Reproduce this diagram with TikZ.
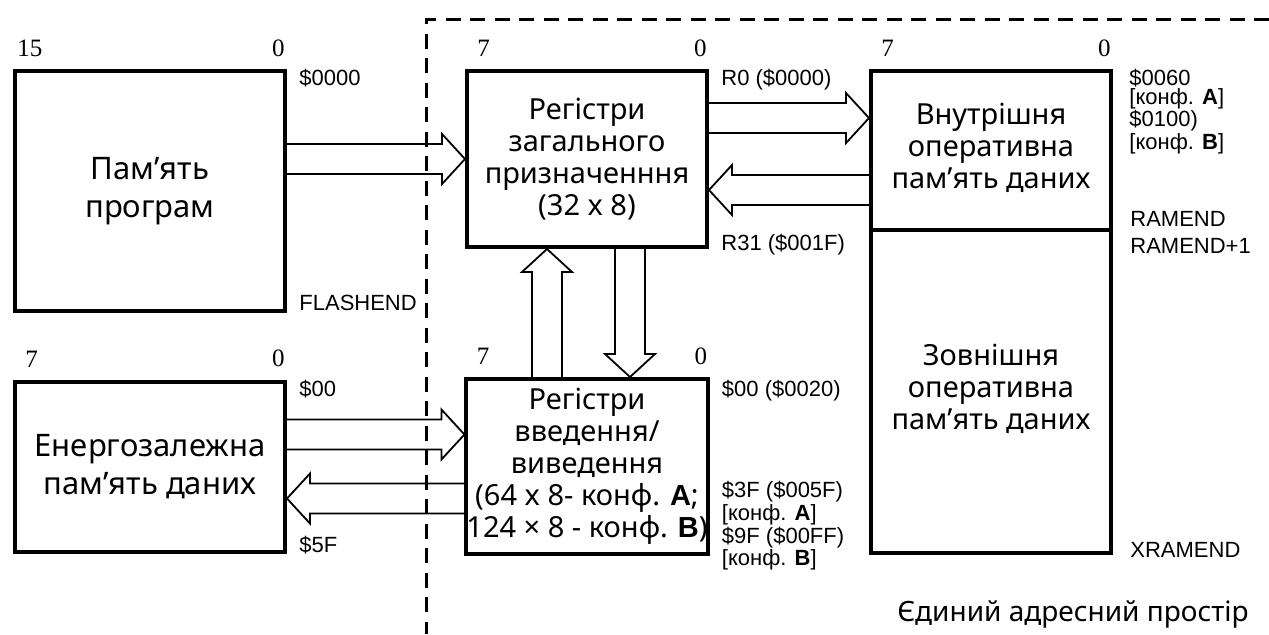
\documentclass[tikz,border=0pt]{standalone}
\usepackage{fontspec}
\setmainfont{Noto Sans}
\newfontfamily\addrfont{Liberation Sans}
\newfontfamily\bitfont{Liberation Serif}
\usetikzlibrary{positioning, calc}

\begin{document}
\begin{tikzpicture}[
  x=0.5pt, y=-0.5pt,                            % one unit = one pixel of the drawing
  mem/.style={rectangle, draw, line width=2pt, align=center, inner sep=0pt,
              font=\fontsize{14.5}{16}\selectfont, minimum width=120pt},
  bigmem/.style={mem, minimum width=135pt, font=\fontsize{15.5}{19}\selectfont},
  bit/.style={font=\bitfont\fontsize{12.5}{13}\selectfont, inner sep=0pt},
  addr/.style={font=\addrfont\fontsize{11}{10}\selectfont, inner sep=0pt, align=left},
  spaceline/.style={dash pattern=on 7.5pt off 4.75pt, line width=1.5pt},
  % hollow bus arrow, drawn from \tikztostart (open tail) to \tikztotarget (tip)
  bus/.style={line width=0.9pt, line join=miter, to path={
      coordinate (bh) at ($(\tikztotarget)!11.5pt!(\tikztostart)$)
      ($(\tikztostart)!7.5pt!90:(\tikztotarget)$)
      -- ($(bh)!7.5pt!-90:(\tikztostart)$)
      -- ($(bh)!12.5pt!-90:(\tikztostart)$)
      -- (\tikztotarget)
      -- ($(bh)!12.5pt!90:(\tikztostart)$)
      -- ($(bh)!7.5pt!90:(\tikztostart)$)
      -- ($(\tikztostart)!7.5pt!-90:(\tikztotarget)$)}}
]
  \useasboundingbox (0,0) rectangle (1269,634);

  % --- unified address space (dashed) ---
  \draw[spaceline] (1269,19) -| (426,634);
  \node[font=\fontsize{14}{16}\selectfont, inner sep=0pt, anchor=base east] (space)
    at (1249,621) {Єдиний адресний простір};

  % --- memory blocks ---
  \node[bigmem, minimum height=120pt] (pm) at (150,191) {Пам’ять\\ програм};
  \node[bigmem, minimum height=85pt]  (ee) at (150,466.5) {Енергозалежна\\ пам’ять даних};
  \node[mem, minimum height=88pt]   (gpr) at (587,159)   {Регістри\\ загального\\ призначенння\\ (32 x 8)};
  \node[mem, minimum height=87.5pt] (io)  at (587,466.5)
    {Регістри\\ введення/\\ виведення\\ (64 x 8- конф. {\addrfont\bfseries A};\\
     124 × 8 - конф. {\addrfont\bfseries B})};
  \node[mem, minimum height=79.5pt] (ram) at (991,150.5)
    {\raisebox{3pt}{\begin{tabular}{@{}c@{}}Внутрішня\\ оперативна\\ пам’ять даних\end{tabular}}};
  \node[mem, minimum height=161.5pt, below=-2pt of ram] (xram)
    {\raisebox{4pt}{\begin{tabular}{@{}c@{}}Зовнішня\\ оперативна\\ пам’ять даних\end{tabular}}};

  % --- bit numbers ---
  \node[bit, anchor=south west] (pm-hi) at ([xshift=2pt,yshift=6pt]pm.north west) {15};
  \node[bit, anchor=south east] (pm-lo) at ([xshift=-1pt,yshift=6pt]pm.north east) {0};
  \foreach \b in {ee, gpr, io, ram} {
    \node[bit, anchor=south west] (\b-hi) at ([xshift=6pt,yshift=6pt]\b.north west) {7};
    \node[bit, anchor=south east] (\b-lo) at ([xshift=-1pt,yshift=6pt]\b.north east) {0};
  }

  % --- addresses ---
  \node[addr, anchor=north west] (a-pm0) at ([xshift=6pt]pm.north east) {\$0000};
  \node[addr, anchor=base west]  (a-pm1) at ([xshift=6pt,yshift=1.5pt]pm.south east) {FLASHEND};
  \node[addr, anchor=north west] (a-ee0) at ([xshift=6pt]ee.north east) {\$00};
  \node[addr, anchor=base west]  (a-ee1) at ([xshift=6pt,yshift=0.5pt]ee.south east) {\$5F};
  \node[addr, anchor=north west] (a-gpr0) at ([xshift=6pt]gpr.north east) {R0 (\$0000)};
  \node[addr, anchor=base west]  (a-gpr1) at ([xshift=6pt,yshift=-0.5pt]gpr.south east) {R31 (\$001F)};
  \node[addr, anchor=north west] (a-io0) at ([xshift=6pt,yshift=-1.5pt]io.north east) {\$00 (\$0020)};
  \node[addr, anchor=north west] (a-io1) at ([xshift=6pt,yshift=37.5pt]io.south east)
    {\$3F (\$005F)\\ {[}конф. \textbf{A}{]}\\ \$9F (\$00FF)\\ {[}конф. \textbf{B}{]}};
  \node[addr, anchor=north west, font=\addrfont\fontsize{11}{9.2}\selectfont] (a-ram0)
    at ([xshift=8pt]ram.north east) {\$0060\\ {[}конф. \textbf{A}{]}\\ \$0100)\\ {[}конф. \textbf{B}{]}};
  \node[addr, anchor=base west] (a-ram1) at ([xshift=8.5pt,yshift=3pt]ram.south east) {RAMEND};
  \node[addr, anchor=base west] (a-ram2) at ([xshift=8.5pt,yshift=-10.5pt]ram.south east) {RAMEND+1};
  \node[addr, anchor=base west] (a-xram) at ([xshift=8.5pt,yshift=-1pt]xram.south east) {XRAMEND};

  % --- data buses ---
  \draw[bus] (pm.east |- gpr.west) to (gpr.west);
  \draw[bus] ([yshift=16pt]ee.east) to ([yshift=16pt]io.west);
  \draw[bus] ([yshift=-16pt]io.west) to ([yshift=-16pt]ee.east);
  \draw[bus] ([yshift=20.5pt]gpr.east) to ($(ram.west |- gpr.east)+(0pt,20.5pt)$);
  \draw[bus] ($(ram.west |- gpr.east)+(0pt,-15.5pt)$) to ([yshift=-15.5pt]gpr.east);
  \draw[bus] ([xshift=-20pt]io.north) to ([xshift=-20pt]gpr.south);
  \draw[bus] ([xshift=21.5pt]gpr.south) to ([xshift=21.5pt]io.north);
\end{tikzpicture}
\end{document}
